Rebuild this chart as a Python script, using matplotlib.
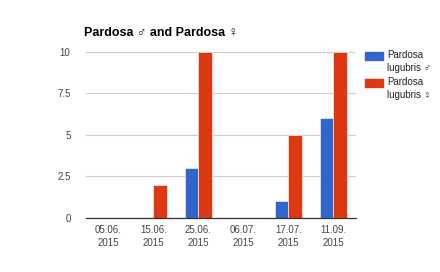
import numpy as np
import matplotlib.pyplot as plt
from matplotlib.patches import Rectangle

plt.rcParams['font.family'] = ['Liberation Sans', 'DejaVu Sans']

dates = ['05.06.\n2015', '15.06.\n2015', '25.06.\n2015', '06.07.\n2015', '17.07.\n2015', '11.09.\n2015']
male = [0, 0, 3, 0, 1, 6]
female = [0, 2, 10, 0, 5, 10]
yticks = [0, 2.5, 5, 7.5, 10]
ytick_labels = ['0', '2.5', '5', '7.5', '10']

blue = '#3366cc'
red = '#dc3912'

fig = plt.figure(figsize=(4.4, 2.72), dpi=100)
ax = fig.add_axes([0.195, 0.1985, 0.614, 0.6105])

x = np.arange(len(dates))
w = 0.3
ax.bar(x - w / 2, male, w, color=blue, edgecolor='white', linewidth=0.4, zorder=3)
ax.bar(x + w / 2, female, w, color=red, edgecolor='white', linewidth=0.4, zorder=3)

ax.set_xlim(-0.5, len(dates) - 0.5)
ax.set_ylim(0, 10)
ax.set_yticks(yticks)
ax.set_yticklabels(ytick_labels)
ax.set_xticks(x)
ax.set_xticklabels(dates, linespacing=1.35)
ax.tick_params(length=0, labelsize=7, colors='#444444')
ax.tick_params(axis='x', pad=5)
ax.tick_params(axis='y', pad=11)
ax.grid(axis='y', color='#cccccc', linewidth=0.8, zorder=0)
for s in ['top', 'right', 'left']:
    ax.spines[s].set_visible(False)
ax.spines['bottom'].set_color('#333333')
ax.spines['bottom'].set_linewidth(0.9)
ax.spines['bottom'].set_zorder(4)

fig.text(84 / 440, 1 - 33 / 272, 'Pardosa ♂ and Pardosa ♀', fontsize=9, fontweight='bold',
         va='center', ha='left', color='black')

# legend
labels = ['Pardosa\nlugubris ♂', 'Pardosa\nlugubris ♀']
colors = [blue, red]
for i, (lab, c) in enumerate(zip(labels, colors)):
    y0 = 1 - (52 + 27 * i) / 272
    fig.patches.append(Rectangle((365 / 440, y0 - 8 / 272), 18 / 440, 8 / 272,
                                 transform=fig.transFigure, color=c))
    fig.text(387 / 440, y0 + 2 / 272, lab, fontsize=7, color='#222222', va='top', ha='left',
             linespacing=1.35)

fig.savefig('out.png', dpi=100)
